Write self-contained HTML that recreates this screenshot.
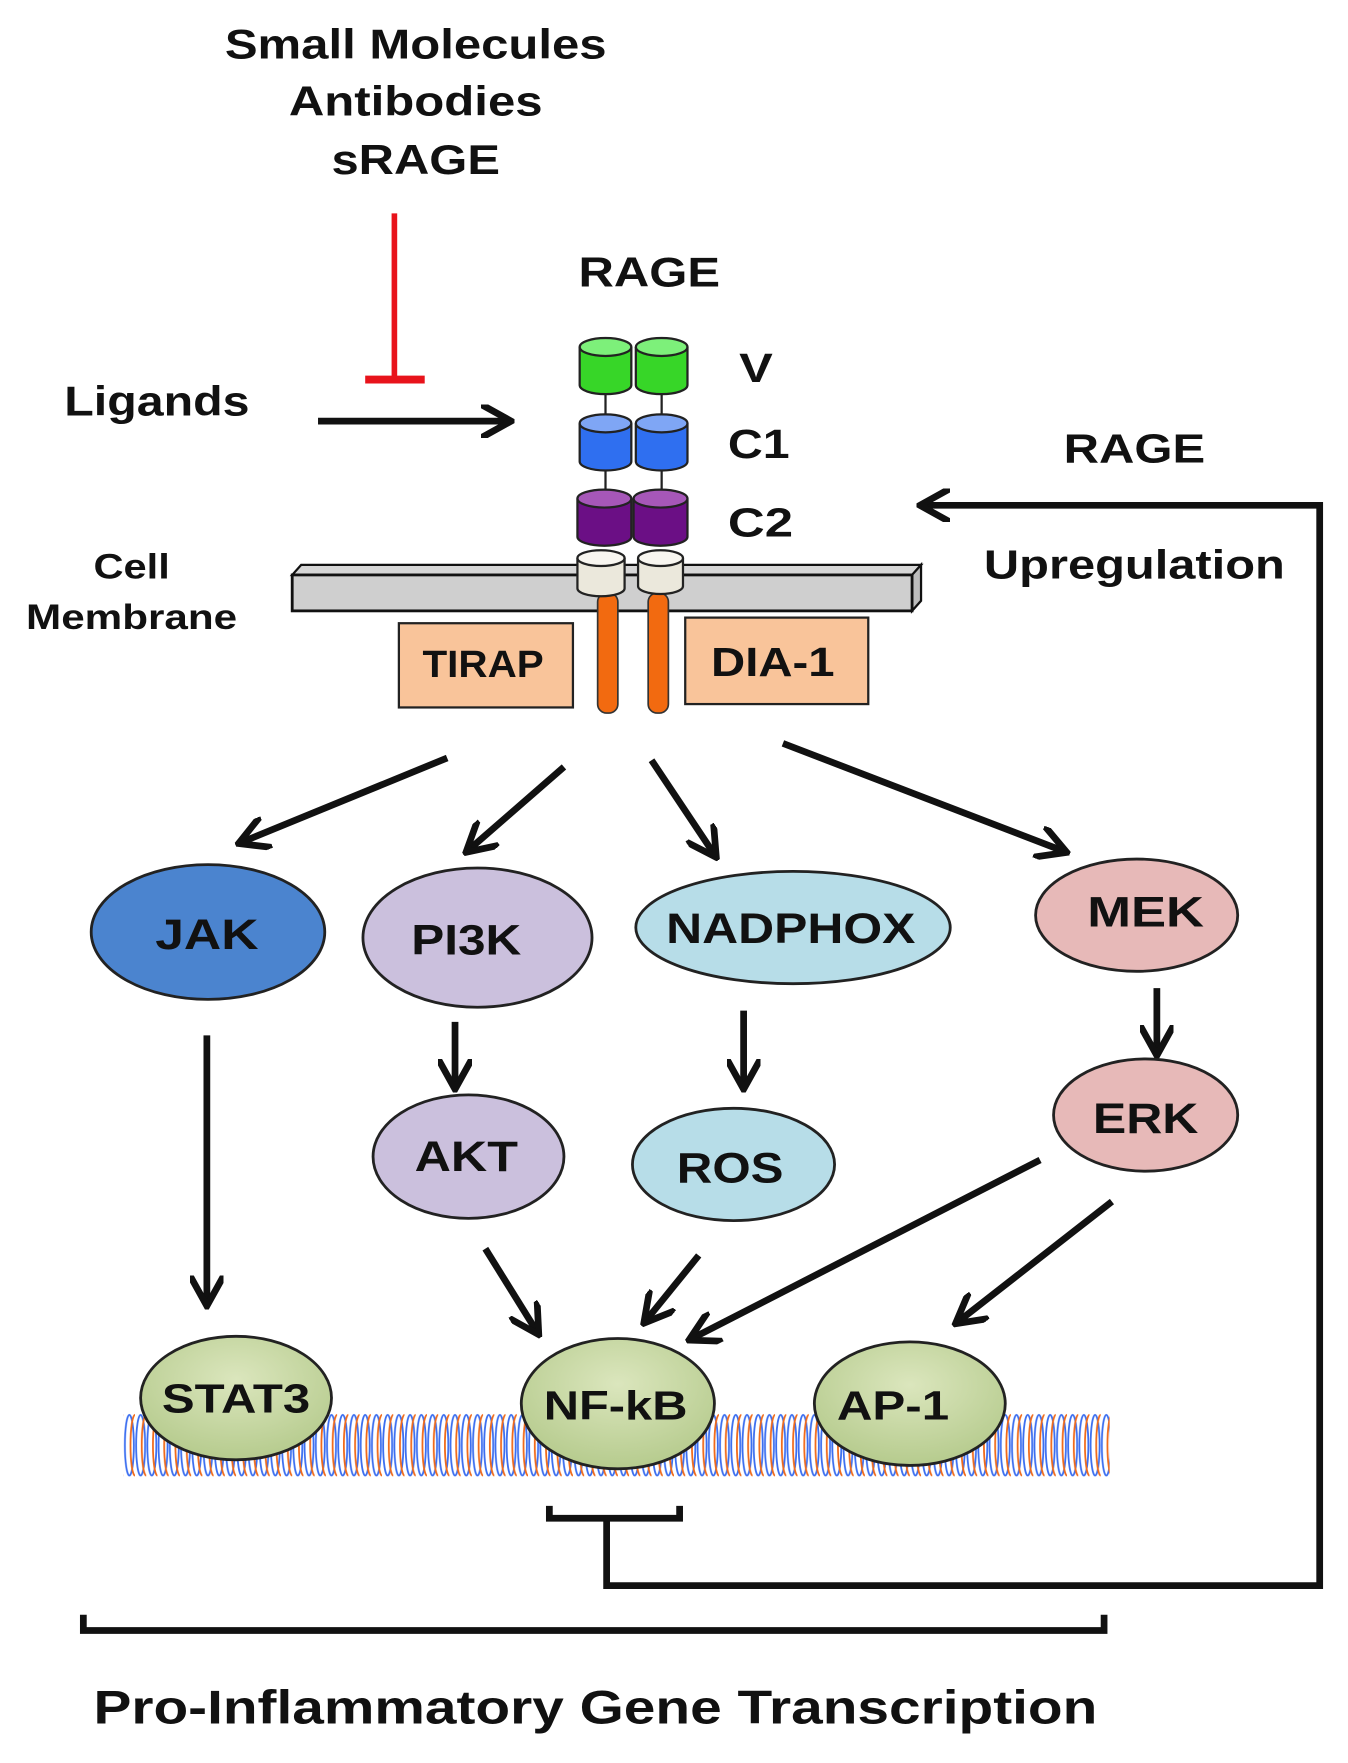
<!DOCTYPE html>
<html><head><meta charset="utf-8"><style>
html,body{margin:0;padding:0;background:#fff}
svg{display:block}
text{font-family:"Liberation Sans",Arial,sans-serif;font-weight:bold;fill:#111}
</style></head><body>
<svg width="1348" height="1763" viewBox="0 0 1200 1570" xmlns="http://www.w3.org/2000/svg">
<defs>
<marker id="ah" viewBox="0 0 10 10" refX="8" refY="5" markerWidth="5" markerHeight="5" orient="auto-start-reverse" markerUnits="strokeWidth">
<path d="M0,0 L9,5 L0,10" fill="none" stroke="#111" stroke-width="2"/>
</marker>
<pattern id="dna" x="110" y="1258" width="10" height="58" patternUnits="userSpaceOnUse">
<ellipse cx="5" cy="29" rx="4" ry="27" fill="none" stroke="#3b6ef0" stroke-width="1.6"/>
<ellipse cx="10" cy="29" rx="4" ry="27" fill="none" stroke="#f06a1a" stroke-width="1.6"/>
</pattern>
<radialGradient id="gg" cx="0.5" cy="0.35" r="0.7"><stop offset="0" stop-color="#dbe6bd"/><stop offset="1" stop-color="#b3c98a"/></radialGradient>
</defs>

<text x="370" y="52" font-size="37" text-anchor="middle" textLength="340" lengthAdjust="spacingAndGlyphs">Small Molecules</text>
<text x="370" y="103" font-size="37" text-anchor="middle" textLength="226" lengthAdjust="spacingAndGlyphs">Antibodies</text>
<text x="370" y="155" font-size="37" text-anchor="middle" textLength="150" lengthAdjust="spacingAndGlyphs">sRAGE</text>

<line x1="351" y1="190" x2="351" y2="338" stroke="#e8131b" stroke-width="5"/>
<line x1="325" y1="338" x2="378" y2="338" stroke="#e8131b" stroke-width="7"/>

<text x="57" y="370" font-size="37" textLength="165" lengthAdjust="spacingAndGlyphs">Ligands</text>
<line x1="283" y1="375" x2="452" y2="375" stroke="#111" stroke-width="6" marker-end="url(#ah)"/>

<text x="578" y="255" font-size="37" text-anchor="middle" textLength="126" lengthAdjust="spacingAndGlyphs">RAGE</text>

<!-- membrane -->
<polygon points="260,512 268,503 820,503 812,512" fill="#d6d6d6" stroke="#111" stroke-width="2"/>
<polygon points="812,512 820,503 820,535 812,544" fill="#bcbcbc" stroke="#111" stroke-width="2"/>
<rect x="260" y="512" width="552" height="32" fill="#cfcfcf" stroke="#111" stroke-width="2.5"/>

<!-- orange stems -->
<rect x="532" y="528" width="18" height="107" rx="8" fill="#f26a10" stroke="#333" stroke-width="1.5"/>
<rect x="577" y="528" width="18" height="107" rx="8" fill="#f26a10" stroke="#333" stroke-width="1.5"/>

<!-- cylinders -->
<g stroke="#222" stroke-width="2">
<line x1="539" y1="350" x2="539" y2="370"/><line x1="589" y1="350" x2="589" y2="370"/>
<line x1="539" y1="418" x2="539" y2="437"/><line x1="589" y1="418" x2="589" y2="437"/>
<!-- V -->
<path d="M516,309 v34 a23,8 0 0 0 46,0 v-34" fill="#37d628"/><ellipse cx="539" cy="309" rx="23" ry="8" fill="#7df07a"/>
<path d="M566,309 v34 a23,8 0 0 0 46,0 v-34" fill="#37d628"/><ellipse cx="589" cy="309" rx="23" ry="8" fill="#7df07a"/>
<!-- C1 -->
<path d="M516,377 v34 a23,8 0 0 0 46,0 v-34" fill="#2f6ff0"/><ellipse cx="539" cy="377" rx="23" ry="8" fill="#7fa6f5"/>
<path d="M566,377 v34 a23,8 0 0 0 46,0 v-34" fill="#2f6ff0"/><ellipse cx="589" cy="377" rx="23" ry="8" fill="#7fa6f5"/>
<!-- C2 -->
<path d="M514,444 v34 a24,8 0 0 0 48,0 v-34" fill="#6b0f85"/><ellipse cx="538" cy="444" rx="24" ry="8" fill="#a657b8"/>
<path d="M564,444 v34 a24,8 0 0 0 48,0 v-34" fill="#6b0f85"/><ellipse cx="588" cy="444" rx="24" ry="8" fill="#a657b8"/>
<!-- white TM -->
<path d="M514,497 v27 a21,7 0 0 0 42,0 v-27" fill="#ebe8dc"/><ellipse cx="535" cy="497" rx="21" ry="7" fill="#f8f6f0"/>
<path d="M568,497 v25 a20,7 0 0 0 40,0 v-25" fill="#ebe8dc"/><ellipse cx="588" cy="497" rx="20" ry="7" fill="#f8f6f0"/>
</g>
<text x="658" y="340" font-size="36" textLength="30" lengthAdjust="spacingAndGlyphs">V</text>
<text x="648" y="408" font-size="36" textLength="55" lengthAdjust="spacingAndGlyphs">C1</text>
<text x="648" y="478" font-size="36" textLength="58" lengthAdjust="spacingAndGlyphs">C2</text>

<text x="117" y="515" font-size="31" text-anchor="middle" textLength="68" lengthAdjust="spacingAndGlyphs">Cell</text>
<text x="117" y="560" font-size="31" text-anchor="middle" textLength="188" lengthAdjust="spacingAndGlyphs">Membrane</text>

<rect x="355" y="555" width="155" height="75" fill="#f9c49a" stroke="#222" stroke-width="2"/>
<text x="430" y="603" font-size="34" text-anchor="middle" textLength="108" lengthAdjust="spacingAndGlyphs">TIRAP</text>
<rect x="610" y="550" width="163" height="77" fill="#f9c49a" stroke="#222" stroke-width="2"/>
<text x="688" y="602" font-size="36" text-anchor="middle" textLength="110" lengthAdjust="spacingAndGlyphs">DIA-1</text>

<text x="1010" y="412" font-size="36" text-anchor="middle" textLength="126" lengthAdjust="spacingAndGlyphs">RAGE</text>
<text x="1010" y="515" font-size="36" text-anchor="middle" textLength="268" lengthAdjust="spacingAndGlyphs">Upregulation</text>

<!-- feedback -->
<polyline points="540,1352 540,1412 1175,1412 1175,450 822,450" fill="none" stroke="#111" stroke-width="6" marker-end="url(#ah)"/>

<!-- arrows -->
<g stroke="#111" stroke-width="6" marker-end="url(#ah)">
<line x1="398" y1="675" x2="215" y2="750"/>
<line x1="502" y1="683" x2="417" y2="757"/>
<line x1="580" y1="677" x2="636" y2="761"/>
<line x1="697" y1="662" x2="947" y2="758"/>
<line x1="405" y1="910" x2="405" y2="967"/>
<line x1="662" y1="900" x2="662" y2="967"/>
<line x1="1030" y1="880" x2="1030" y2="937"/>
<line x1="184" y1="922" x2="184" y2="1160"/>
<line x1="432" y1="1112" x2="478" y2="1186"/>
<line x1="622" y1="1118" x2="575" y2="1176"/>
<line x1="926" y1="1033" x2="616" y2="1192"/>
<line x1="990" y1="1070" x2="853" y2="1177"/>
</g>

<!-- ellipses -->
<g stroke="#222" stroke-width="2.5">
<ellipse cx="185" cy="830" rx="104" ry="60" fill="#4b84cf"/>
<ellipse cx="425" cy="835" rx="102" ry="62" fill="#cbc0dd"/>
<ellipse cx="706" cy="826" rx="140" ry="50" fill="#b7dde8"/>
<ellipse cx="1012" cy="815" rx="90" ry="50" fill="#e7b9b8"/>
<ellipse cx="417" cy="1030" rx="85" ry="55" fill="#cbc0dd"/>
<ellipse cx="653" cy="1037" rx="90" ry="50" fill="#b7dde8"/>
<ellipse cx="1020" cy="993" rx="82" ry="50" fill="#e7b9b8"/>
</g>
<text x="184" y="845" font-size="38" text-anchor="middle" textLength="92" lengthAdjust="spacingAndGlyphs">JAK</text>
<text x="415" y="850" font-size="38" text-anchor="middle" textLength="98" lengthAdjust="spacingAndGlyphs">PI3K</text>
<text x="704" y="840" font-size="38" text-anchor="middle" textLength="222" lengthAdjust="spacingAndGlyphs">NADPHOX</text>
<text x="1020" y="825" font-size="38" text-anchor="middle" textLength="104" lengthAdjust="spacingAndGlyphs">MEK</text>
<text x="415" y="1043" font-size="38" text-anchor="middle" textLength="92" lengthAdjust="spacingAndGlyphs">AKT</text>
<text x="650" y="1053" font-size="38" text-anchor="middle" textLength="95" lengthAdjust="spacingAndGlyphs">ROS</text>
<text x="1020" y="1009" font-size="38" text-anchor="middle" textLength="94" lengthAdjust="spacingAndGlyphs">ERK</text>

<!-- DNA -->
<rect x="110" y="1258" width="878" height="58" fill="url(#dna)"/>

<g stroke="#222" stroke-width="2.5" fill="url(#gg)">
<ellipse cx="210" cy="1245" rx="85" ry="55"/>
<ellipse cx="550" cy="1250" rx="86" ry="58"/>
<ellipse cx="810" cy="1250" rx="85" ry="55"/>
</g>
<text x="210" y="1258" font-size="36" text-anchor="middle" textLength="132" lengthAdjust="spacingAndGlyphs">STAT3</text>
<text x="548" y="1264" font-size="36" text-anchor="middle" textLength="128" lengthAdjust="spacingAndGlyphs">NF-kB</text>
<text x="795" y="1264" font-size="36" text-anchor="middle" textLength="100" lengthAdjust="spacingAndGlyphs">AP-1</text>

<!-- brackets -->
<polyline points="489,1341 489,1352 605,1352 605,1341" fill="none" stroke="#111" stroke-width="6"/>
<polyline points="74,1438 74,1452 983,1452 983,1438" fill="none" stroke="#111" stroke-width="6"/>

<text x="530" y="1535" font-size="42" text-anchor="middle" textLength="894" lengthAdjust="spacingAndGlyphs">Pro-Inflammatory Gene Transcription</text>
</svg>
</body></html>
